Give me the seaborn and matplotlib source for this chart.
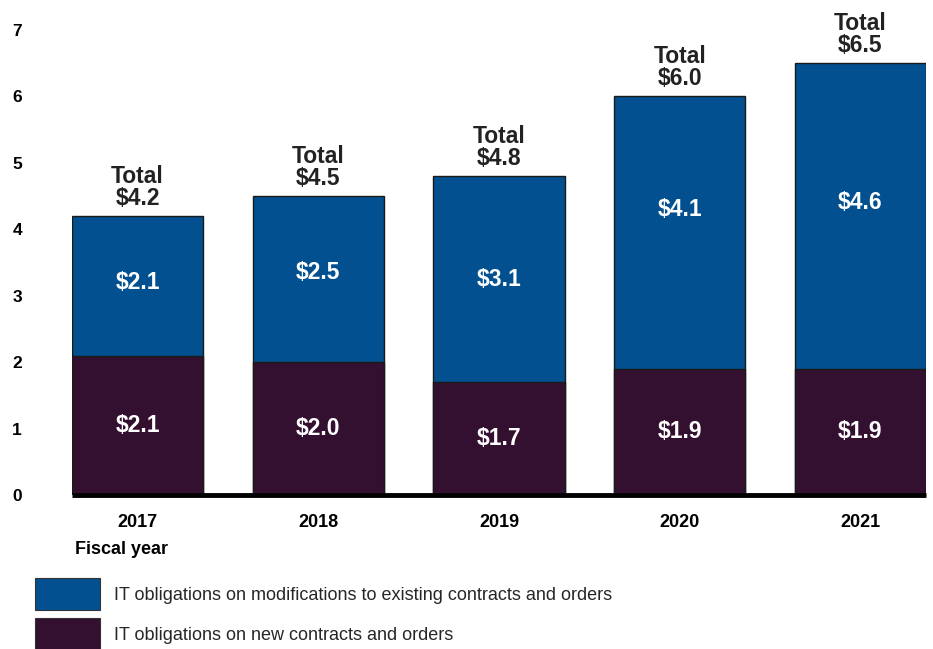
import pandas as pd
import matplotlib.pyplot as plt
import seaborn as sns
from matplotlib.patches import Patch

# Data (billions of dollars)
years = ["2017", "2018", "2019", "2020", "2021"]
new_contracts = [2.1, 2.0, 1.7, 1.9, 1.9]
modifications = [2.1, 2.5, 3.1, 4.1, 4.6]
totals = [4.2, 4.5, 4.8, 6.0, 6.5]
# where the labels of the upper segments sit
mod_label_y = [3.2, 3.35, 3.25, 4.3, 4.4]

blue = "#02508F"
purple = "#330F30"

df = pd.DataFrame({"year": years, "new": new_contracts,
                   "mod": modifications, "total": totals})

sns.set_theme(style="white")
plt.rcParams["font.family"] = ["Liberation Sans", "DejaVu Sans"]

fig = plt.figure(figsize=(9.33, 6.49), dpi=100)
ax = fig.add_axes([72 / 933, 1 - 495 / 649, (926 - 72) / 933, (495 - 30) / 649])

# stacked: draw full total in blue, then the bottom segment over it
sns.barplot(data=df, x="year", y="total", color=blue, saturation=1,
            width=0.725, edgecolor="#1a1a1a", linewidth=1, ax=ax)
sns.barplot(data=df, x="year", y="new", color=purple, saturation=1,
            width=0.725, edgecolor="#1a1a1a", linewidth=1, ax=ax)

ax.set_xlim(-0.3625, 4.3625)
ax.set_ylim(0, 7)
ax.set_yticks(range(0, 8))
ax.set_xlabel("")
ax.set_ylabel("")

for s in ["top", "right", "left"]:
    ax.spines[s].set_visible(False)
ax.spines["bottom"].set_linewidth(3.5)
ax.spines["bottom"].set_color("black")
ax.spines["bottom"].set_capstyle("butt")

ax.tick_params(axis="both", length=0)
ax.tick_params(axis="y", pad=36, labelsize=12.5)
ax.tick_params(axis="x", pad=14, labelsize=13)
for lab in ax.get_yticklabels() + ax.get_xticklabels():
    lab.set_fontweight("bold")
    lab.set_color("black")

# segment labels
for i in range(len(years)):
    ax.text(i, new_contracts[i] / 2, f"${new_contracts[i]:.1f}", color="white",
            ha="center", va="center", fontsize=16.5, fontweight="bold")
    ax.text(i, mod_label_y[i], f"${modifications[i]:.1f}",
            color="white", ha="center", va="center", fontsize=16.5, fontweight="bold")
    ax.annotate(f"Total\n${totals[i]:.1f}", (i, totals[i]), xytext=(0, 4.5),
                textcoords="offset points", ha="center", va="bottom",
                fontsize=16.5, fontweight="bold", color="#222222", linespacing=0.95)

fig.text(75 / 933, 1 - 550 / 649, "Fiscal year", ha="left", va="center",
         fontsize=13, fontweight="bold", color="black")

handles = [Patch(facecolor=blue, edgecolor="#333333", linewidth=0.8),
           Patch(facecolor=purple, edgecolor="#333333", linewidth=0.8)]
labels = ["IT obligations on modifications to existing contracts and orders",
          "IT obligations on new contracts and orders"]
fig.legend(handles, labels, loc="upper left",
           bbox_to_anchor=(35 / 933, 1 - 578 / 649), frameon=False,
           fontsize=13, handlelength=3.6, handleheight=2.35,
           handletextpad=0.8, labelspacing=0.44, borderpad=0, borderaxespad=0)

fig.savefig("out.png", dpi=100)
